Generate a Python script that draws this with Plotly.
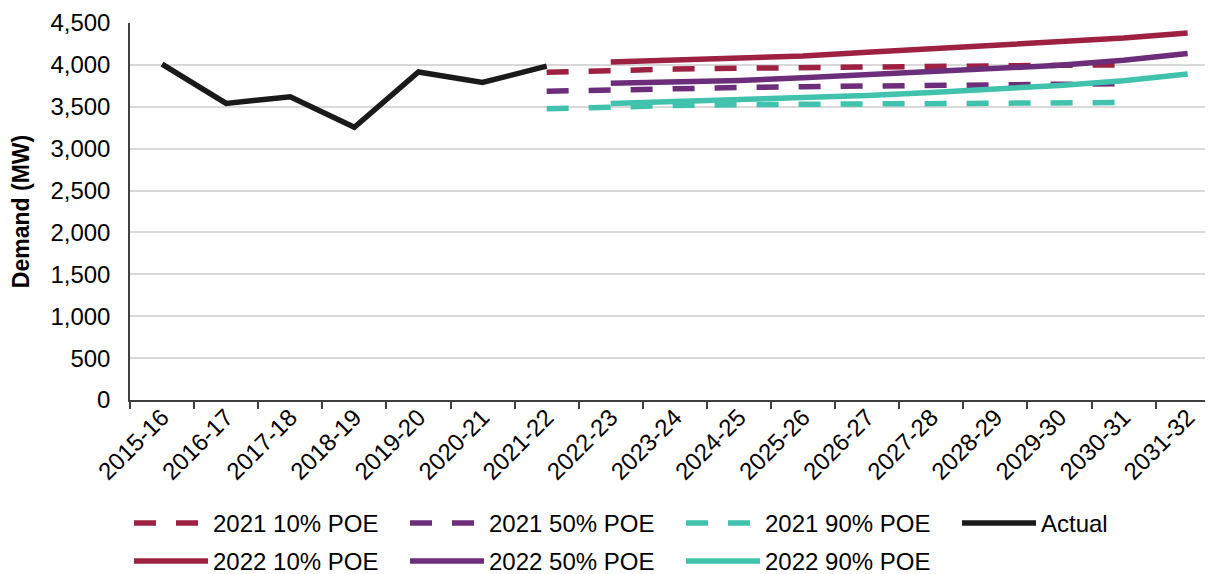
import plotly.graph_objects as go

years = ["2015-16", "2016-17", "2017-18", "2018-19", "2019-20", "2020-21", "2021-22",
         "2022-23", "2023-24", "2024-25", "2025-26", "2026-27", "2027-28", "2028-29",
         "2029-30", "2030-31", "2031-32"]

actual_years = years[0:7]
actual = [4010, 3540, 3620, 3255, 3915, 3790, 3985]

f2021_years = years[6:16]
f2021_10 = [3913, 3935, 3950, 3960, 3970, 3978, 3985, 3990, 3995, 4000]
f2021_50 = [3685, 3705, 3720, 3730, 3740, 3748, 3755, 3762, 3770, 3776]
f2021_90 = [3476, 3500, 3515, 3525, 3532, 3537, 3541, 3545, 3548, 3551]

f2022_years = years[7:17]
f2022_10 = [4035, 4055, 4075, 4105, 4150, 4190, 4225, 4270, 4320, 4380]
f2022_50 = [3780, 3795, 3815, 3845, 3880, 3915, 3950, 3995, 4055, 4135]
f2022_90 = [3540, 3560, 3580, 3605, 3635, 3670, 3710, 3755, 3810, 3890]

RED = "#9E2042"
PURPLE = "#6C2E7A"
TEAL = "#40C2AD"
BLACK = "#1A1A1A"
DASH = "22px,20px"
LW = 5.5

fig = go.Figure()
fig.add_trace(go.Scatter(x=f2021_years, y=f2021_10, mode="lines", name="2021 10% POE",
                         legend="legend", line=dict(color=RED, width=LW, dash=DASH)))
fig.add_trace(go.Scatter(x=f2021_years, y=f2021_50, mode="lines", name="2021 50% POE",
                         legend="legend", line=dict(color=PURPLE, width=LW, dash=DASH)))
fig.add_trace(go.Scatter(x=f2021_years, y=f2021_90, mode="lines", name="2021 90% POE",
                         legend="legend", line=dict(color=TEAL, width=LW, dash=DASH)))
fig.add_trace(go.Scatter(x=actual_years, y=actual, mode="lines", name="Actual",
                         legend="legend", line=dict(color=BLACK, width=LW)))
fig.add_trace(go.Scatter(x=f2022_years, y=f2022_10, mode="lines", name="2022 10% POE",
                         legend="legend2", line=dict(color=RED, width=LW)))
fig.add_trace(go.Scatter(x=f2022_years, y=f2022_50, mode="lines", name="2022 50% POE",
                         legend="legend2", line=dict(color=PURPLE, width=LW)))
fig.add_trace(go.Scatter(x=f2022_years, y=f2022_90, mode="lines", name="2022 90% POE",
                         legend="legend2", line=dict(color=TEAL, width=LW)))

FONT = "Liberation Sans, Arial, sans-serif"

# The page body has an 8px default margin, so the figure is laid out shifted by 8px.
# The plot area runs past the visible right edge, as in the cropped reference.
W, H = 1400, 600
L, T = 122, 15
PLOT_R, PLOT_B = 1300, 392
CAT_PX = 64.1
ITEM_W = 74
plot_h = PLOT_B - T
plot_w = PLOT_R - L
leg_x = (205 - (ITEM_W + 10) - L) / plot_w
x_hi = -0.5 + plot_w / CAT_PX

legend_common = dict(orientation="h", xanchor="left", yanchor="top",
                     itemwidth=ITEM_W,
                     entrywidth=277 - (ITEM_W + 10) - 6, entrywidthmode="pixels",
                     font=dict(family=FONT, size=24, color="black"),
                     bgcolor="rgba(0,0,0,0)", traceorder="normal")

fig.update_layout(
    width=W, height=H,
    margin=dict(l=L, r=W - PLOT_R, t=T, b=H - PLOT_B),
    paper_bgcolor="white", plot_bgcolor="white",
    font=dict(family=FONT, size=24, color="black"),
    showlegend=True,
    legend=dict(x=leg_x, y=(PLOT_B - 493) / plot_h, **legend_common),
    legend2=dict(x=leg_x, y=(PLOT_B - 531) / plot_h, **legend_common),
    xaxis=dict(type="category", categoryorder="array", categoryarray=years,
               range=[-0.5, x_hi], tickangle=-45, tickson="boundaries",
               ticks="outside", ticklen=7, tickcolor="#404040", tickwidth=1.5,
               showline=True, linecolor="#404040", linewidth=1.5,
               showgrid=False, zeroline=False, automargin=False,
               ticklabelstandoff=-8,
               tickfont=dict(family=FONT, size=24, color="black")),
    yaxis=dict(range=[0, 4500], dtick=500, tickformat=",", ticks="",
               showline=True, linecolor="#404040", linewidth=1.5,
               showgrid=True, gridcolor="#D9D9D9", gridwidth=1.5,
               zeroline=False, automargin=False, ticklabelstandoff=13,
               tickfont=dict(family=FONT, size=24, color="black"),
               title=dict(text="<b>Demand (MW)</b>", standoff=17,
                          font=dict(family=FONT, size=23, color="black"))),
)

fig.write_html("out.html")
